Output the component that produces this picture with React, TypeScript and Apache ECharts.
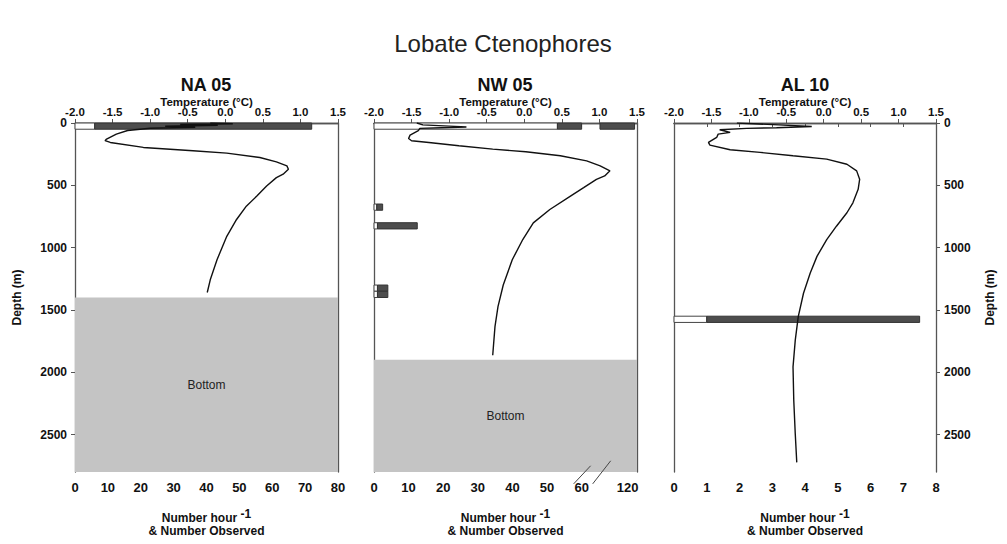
import React, { useEffect, useRef } from "react";
import * as echarts from "echarts";

// ---------- data ----------
// Temperature profiles: [temperature °C, depth m]
const na05Temp: number[][] = [
  [-0.2, 0], [0.1, 6], [-0.6, 12], [-0.1, 18], [-0.8, 26], [-0.4, 34], [-1.0, 42],
  [-1.3, 60], [-1.45, 89], [-1.58, 129], [-1.6, 142], [-1.53, 156], [-1.09, 196],
  [-0.43, 223], [0.02, 242], [0.46, 277], [0.68, 312], [0.82, 344], [0.84, 371],
  [0.77, 411], [0.68, 438], [0.55, 505], [0.42, 586], [0.28, 667], [0.15, 774],
  [0.02, 909], [-0.11, 1097], [-0.2, 1258], [-0.24, 1360],
];
const nw05Temp: number[][] = [
  [-1.43, 0], [-1.35, 15], [-1.0, 25], [-0.77, 32], [-1.1, 38], [-1.39, 43],
  [-1.41, 62], [-1.52, 97], [-1.54, 124], [-1.5, 142], [-1.27, 156], [-0.87, 183],
  [-0.42, 210], [0.02, 231], [0.48, 263], [0.83, 304], [1.01, 344], [1.14, 384],
  [1.07, 425], [0.96, 452], [0.79, 519], [0.63, 580], [0.34, 694], [0.12, 801],
  [-0.02, 935], [-0.16, 1097], [-0.28, 1300], [-0.35, 1473], [-0.39, 1634], [-0.42, 1863],
];
const al10Temp: number[][] = [
  [-1.16, 0], [-0.6, 15], [-0.16, 28], [-0.63, 38], [-1.03, 43], [-1.39, 54],
  [-1.25, 75], [-1.41, 89], [-1.43, 116], [-1.54, 156], [-1.52, 177], [-1.25, 215],
  [-0.85, 236], [-0.41, 263], [0.04, 290], [0.31, 331], [0.44, 384], [0.48, 452],
  [0.46, 532], [0.39, 640], [0.31, 720], [0.17, 828], [0.04, 935], [-0.09, 1070],
  [-0.18, 1204], [-0.27, 1366], [-0.34, 1554], [-0.38, 1742], [-0.41, 1957],
  [-0.4, 2226], [-0.38, 2495], [-0.36, 2723],
];

// Net tows: top of 50 m depth bin, number per hour, number observed
const BIN = 50;
const na05BinTop = [0];
const na05Rate = [6];
const na05Observed = [72];
const nw05BinTop = [0, 650, 800, 1300, 1350];
const nw05Rate = [53, 0.8, 1, 1, 1];
const nw05Observed = [122, 2.5, 12.5, 4, 4];
const al10BinTop = [1550];
const al10Rate = [1];
const al10Observed = [7.5];

// Depth of the sea floor per station
const na05Bottom = 1400;
const nw05Bottom = 1900;
const MAX_DEPTH = 2800;

// Tick labels
const depthTicks = [0, 500, 1000, 1500, 2000, 2500];
const nw05CountTicks = [0, 10, 20, 30, 40, 50, 60, 120];

// ---------- broken count axis for NW 05 ----------
const BRK_LO = 60;
const BRK_HI = 112;
const BRK_END = 65.3;
const brk = (v: number) =>
  v <= BRK_LO ? v : v >= BRK_HI ? BRK_END + (v - BRK_HI) : BRK_LO + ((v - BRK_LO) * (BRK_END - BRK_LO)) / (BRK_HI - BRK_LO);
const unbrk = (d: number) => (d <= BRK_LO ? d : d >= BRK_END ? d - BRK_END + BRK_HI : BRK_LO);

const FONT = '"Liberation Sans", Arial, Helvetica, sans-serif';
const AXIS_COLOR = "#555";
const TEXT = "#111";

const zip3 = (a: number[], b: number[], c: number[]) => a.map((v, i) => [v, b[i], c[i]]);

function barRenderer(broken: boolean) {
  return (_params: any, api: any) => {
    const top = api.value(0);
    const rate = api.value(1);
    const obs = api.value(2);
    const bot = top + BIN;
    const m = broken ? brk : (v: number) => v;
    const y0 = api.coord([0, top])[1];
    const y1 = api.coord([0, bot])[1];
    const x0 = api.coord([0, top])[0];
    const xr = api.coord([m(rate), top])[0];
    const children: any[] = [
      {
        type: "rect",
        shape: { x: x0, y: y0, width: xr - x0, height: y1 - y0 },
        style: { fill: "#fff", stroke: "#444", lineWidth: 1 },
      },
    ];
    const segs: number[][] = [];
    if (broken && obs > BRK_HI) {
      segs.push([rate, BRK_LO], [BRK_HI, obs]);
    } else {
      segs.push([rate, obs]);
    }
    segs.forEach(([a, b]) => {
      const xa = api.coord([m(a), top])[0];
      const xb = api.coord([m(b), top])[0];
      children.push({
        type: "rect",
        shape: { x: xa, y: y0, width: xb - xa, height: y1 - y0 },
        style: { fill: "#4d4d4d", stroke: "#333", lineWidth: 1 },
      });
    });
    return { type: "group", children };
  };
}

const lineAxis = { lineStyle: { color: AXIS_COLOR, width: 1.3 } };
const labelStyle = { fontFamily: FONT, fontWeight: "bold" as const, color: TEXT };

function tempAxis(gridIndex: number) {
  return {
    type: "value",
    gridIndex,
    position: "top",
    min: -2,
    max: 1.5,
    interval: 0.5,
    axisLine: { show: true, ...lineAxis },
    axisTick: { show: true, length: 4, lineStyle: { color: AXIS_COLOR } },
    axisLabel: { ...labelStyle, fontSize: 11.5, margin: 5, formatter: (v: number) => v.toFixed(1) },
    splitLine: { show: false },
    name: "Temperature (°C)",
    nameLocation: "middle",
    nameGap: 15,
    nameMoveOverlap: false,
    nameTextStyle: { ...labelStyle, fontSize: 11.5 },
  };
}

const countName = "Number hour {s|-1}\n& Number Observed";
const countNameStyle = {
  ...labelStyle,
  fontSize: 12,
  lineHeight: 13,
  rich: { s: { ...labelStyle, fontSize: 12, padding: [0, 0, 7, 0] } },
};

function countAxis(gridIndex: number, max: number, interval: number, extra: any = {}) {
  return {
    type: "value",
    gridIndex,
    position: "bottom",
    min: 0,
    max,
    interval,
    axisLine: { show: true, ...lineAxis },
    axisTick: { show: true, length: 4, lineStyle: { color: AXIS_COLOR } },
    axisLabel: { ...labelStyle, fontSize: 13, margin: 9 },
    splitLine: { show: false },
    name: countName,
    nameLocation: "middle",
    nameGap: 39,
    nameMoveOverlap: false,
    nameTextStyle: countNameStyle,
    ...extra,
  };
}

function depthAxis(gridIndex: number, position: "left" | "right", labelled: boolean) {
  return {
    type: "value",
    gridIndex,
    position,
    inverse: true,
    min: 0,
    max: MAX_DEPTH,
    axisLine: { show: true, onZero: false, ...lineAxis },
    axisTick: {
      show: labelled,
      length: 4,
      customValues: depthTicks,
      lineStyle: { color: AXIS_COLOR },
    },
    axisLabel: {
      show: labelled,
      ...labelStyle,
      fontSize: 12,
      margin: 8,
      customValues: depthTicks,
      formatter: (v: number) => String(v),
    },
    splitLine: { show: false },
    name: labelled ? "Depth (m)" : "",
    nameLocation: "middle",
    nameRotate: 90,
    nameGap: position === "left" ? 52 : 48,
    nameMoveOverlap: false,
    nameTextStyle: { ...labelStyle, fontSize: 12 },
  };
}

function bottomArea(depth: number) {
  return {
    silent: true,
    itemStyle: { color: "#c4c4c4" },
    label: {
      show: true,
      position: "inside",
      formatter: "Bottom",
      fontFamily: FONT,
      fontSize: 12,
      color: "#222",
    },
    data: [[{ yAxis: depth }, { yAxis: MAX_DEPTH }]],
  };
}

function tempSeries(data: number[][], xAxisIndex: number, yAxisIndex: number, floor?: number) {
  return {
    type: "line",
    xAxisIndex,
    yAxisIndex,
    data,
    showSymbol: false,
    symbol: "none",
    lineStyle: { color: "#111", width: 1.4 },
    z: 5,
    markArea: floor !== undefined ? bottomArea(floor) : undefined,
  };
}

function barSeries(data: number[][], xAxisIndex: number, yAxisIndex: number, broken = false) {
  return {
    type: "custom",
    xAxisIndex,
    yAxisIndex,
    data,
    encode: { x: [1, 2], y: 0 },
    renderItem: barRenderer(broken),
    z: 3,
  };
}

export default function App() {
  const ref = useRef<HTMLDivElement>(null);

  useEffect(() => {
    if (!ref.current) return;
    const chart = echarts.init(ref.current, undefined, { renderer: "svg" });
    const nwDisplayTicks = nw05CountTicks.map(brk);

    chart.setOption({
      animation: false,
      backgroundColor: "#fff",
      textStyle: { fontFamily: FONT },
      grid: [
        { left: 75, top: 123, width: 263, height: 349 },
        { left: 374, top: 123, width: 263, height: 349 },
        { left: 674, top: 123, width: 262, height: 349 },
      ],
      xAxis: [
        countAxis(0, 80, 10),
        tempAxis(0),
        countAxis(1, 76, 10, {
          axisTick: { show: true, length: 4, customValues: nwDisplayTicks, lineStyle: { color: AXIS_COLOR } },
          axisLabel: {
            ...labelStyle,
            fontSize: 13,
            margin: 9,
            customValues: nwDisplayTicks,
            formatter: (v: number) => String(Math.round(unbrk(v))),
          },
        }),
        tempAxis(1),
        countAxis(2, 8, 1),
        tempAxis(2),
      ],
      yAxis: [
        depthAxis(0, "left", true),
        depthAxis(0, "right", false),
        depthAxis(1, "left", false),
        depthAxis(1, "right", false),
        depthAxis(2, "left", false),
        depthAxis(2, "right", true),
      ],
      series: [
        tempSeries(na05Temp, 1, 0, na05Bottom),
        barSeries(zip3(na05BinTop, na05Rate, na05Observed), 0, 0),
        tempSeries(nw05Temp, 3, 2, nw05Bottom),
        barSeries(zip3(nw05BinTop, nw05Rate, nw05Observed), 2, 2, true),
        tempSeries(al10Temp, 5, 4),
        barSeries(zip3(al10BinTop, al10Rate, al10Observed), 4, 4),
        // break marks on the NW 05 count axis
        {
          type: "custom",
          xAxisIndex: 2,
          yAxisIndex: 2,
          data: [[0]],
          silent: true,
          z: 6,
          renderItem: (_p: any, api: any) => {
            const a1 = api.coord([57.7, 2895]);
            const a2 = api.coord([62.6, 2750]);
            const b1 = api.coord([63.2, 2895]);
            const b2 = api.coord([68.4, 2710]);
            const st = { stroke: "#444", lineWidth: 1 };
            return {
              type: "group",
              children: [
                { type: "line", shape: { x1: a1[0], y1: a1[1], x2: a2[0], y2: a2[1] }, style: st },
                { type: "line", shape: { x1: b1[0], y1: b1[1], x2: b2[0], y2: b2[1] }, style: st },
              ],
            };
          },
        },
      ],
      graphic: [
        {
          type: "text",
          x: 503,
          y: 43,
          style: {
            text: "Lobate Ctenophores",
            align: "center",
            verticalAlign: "middle",
            font: `24px ${FONT}`,
            fill: "#222",
          },
        },
        ...[
          ["NA 05", 206],
          ["NW 05", 505],
          ["AL 10", 805],
        ].map(([t, x]) => ({
          type: "text",
          x: x as number,
          y: 85,
          style: {
            text: t as string,
            align: "center",
            verticalAlign: "middle",
            font: `bold 18px ${FONT}`,
            fill: TEXT,
          },
        })),
      ],
    });

    return () => chart.dispose();
  }, []);

  return (
    <div
      ref={ref}
      style={{ position: "fixed", left: 0, top: 0, width: 1007, height: 544, background: "#fff" }}
    />
  );
}
